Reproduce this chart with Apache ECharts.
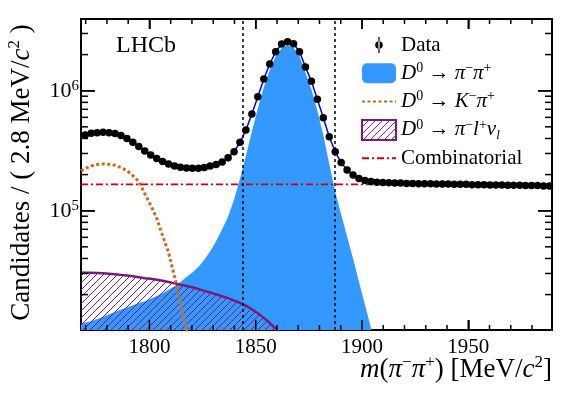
<!DOCTYPE html>
<html>
<head>
<meta charset="utf-8">
<script src="https://cdn.jsdelivr.net/npm/echarts@6/dist/echarts.min.js"></script>
<style>
  html, body { margin: 0; padding: 0; background: #fff; }
  #chart { width: 581px; height: 394px; }
</style>
</head>
<body>
<div id="chart"></div>
<script>
// axis range and binning, MeV/c^2
const massMin = 1767.8;
const massMax = 1989.4;
const binStart = 1769.8;
const binWidth = 2.8;

// candidates per bin
const dataCounts = [
  4.27e5, 4.42e5, 4.47e5, 4.50e5, 4.47e5, 4.40e5, 4.24e5, 4.00e5, 3.72e5, 3.43e5,
  3.15e5, 2.91e5, 2.72e5, 2.57e5, 2.45e5, 2.36e5, 2.30e5, 2.27e5, 2.26e5, 2.26e5,
  2.29e5, 2.36e5, 2.43e5, 2.55e5, 2.77e5, 3.10e5, 3.72e5, 4.70e5, 6.39e5, 8.90e5,
  1.25e6, 1.67e6, 2.11e6, 2.45e6, 2.56e6, 2.46e6, 2.11e6, 1.58e6, 1.20e6, 8.50e5,
  5.96e5, 4.14e5, 3.10e5, 2.52e5, 2.18e5, 1.98e5, 1.86e5, 1.79e5, 1.75e5, 1.73e5,
  1.72e5, 1.71e5, 1.70e5, 1.70e5, 1.69e5, 1.69e5, 1.68e5, 1.68e5, 1.68e5, 1.67e5,
  1.67e5, 1.67e5, 1.66e5, 1.66e5, 1.66e5, 1.65e5, 1.65e5, 1.65e5, 1.64e5, 1.64e5,
  1.64e5, 1.63e5, 1.63e5, 1.63e5, 1.62e5, 1.62e5, 1.62e5, 1.61e5, 1.61e5
];

// model curves: first value sits on the left frame, the rest on the bin centres
const fitTotal = [
  4.14e5,
  4.27e5, 4.42e5, 4.47e5, 4.50e5, 4.47e5, 4.40e5, 4.24e5, 4.00e5, 3.72e5, 3.43e5,
  3.15e5, 2.91e5, 2.72e5, 2.57e5, 2.45e5, 2.36e5, 2.30e5, 2.27e5, 2.26e5, 2.26e5,
  2.29e5, 2.36e5, 2.43e5, 2.55e5, 2.77e5, 3.10e5, 3.72e5, 4.70e5, 6.39e5, 8.90e5,
  1.25e6, 1.67e6, 2.11e6, 2.45e6, 2.56e6, 2.46e6, 2.11e6, 1.58e6, 1.20e6, 8.50e5,
  5.96e5, 4.14e5, 3.10e5, 2.52e5, 2.18e5, 1.98e5, 1.86e5, 1.79e5, 1.75e5, 1.73e5,
  1.72e5, 1.71e5, 1.70e5, 1.70e5, 1.69e5, 1.69e5, 1.68e5, 1.68e5, 1.68e5, 1.67e5,
  1.67e5, 1.67e5, 1.66e5, 1.66e5, 1.66e5, 1.65e5, 1.65e5, 1.65e5, 1.64e5, 1.64e5,
  1.64e5, 1.63e5, 1.63e5, 1.63e5, 1.62e5, 1.62e5, 1.62e5, 1.61e5, 1.61e5
];
const signalPiPi = [
  1.15e4,
  1.17e4, 1.20e4, 1.25e4, 1.30e4, 1.37e4, 1.43e4, 1.50e4, 1.56e4, 1.63e4, 1.70e4,
  1.76e4, 1.85e4, 1.95e4, 2.05e4, 2.20e4, 2.35e4, 2.55e4, 2.80e4, 3.05e4, 3.40e4,
  3.90e4, 4.60e4, 5.60e4, 7.00e4, 8.90e4, 1.24e5, 1.85e5, 2.87e5, 4.58e5, 7.10e5,
  1.07e6, 1.49e6, 1.93e6, 2.27e6, 2.39e6, 2.29e6, 1.94e6, 1.41e6, 1.03e6, 6.80e5,
  4.27e5, 2.46e5, 1.44e5, 9.30e4, 6.10e4, 4.00e4, 2.55e4, 1.65e4, 1.06e4, 6.80e3,
  4.40e3
];
const misIdKPi = [
  2.15e5,
  2.25e5, 2.36e5, 2.43e5, 2.45e5, 2.44e5, 2.39e5, 2.29e5, 2.16e5, 1.96e5, 1.75e5,
  1.39e5, 1.11e5, 8.70e4, 6.20e4, 4.47e4, 2.83e4, 1.69e4, 1.03e4, 6.00e3
];
const semiLeptonic = [
  3.05e4,
  3.04e4, 3.04e4, 3.03e4, 3.01e4, 2.99e4, 2.96e4, 2.92e4, 2.88e4, 2.84e4, 2.79e4,
  2.74e4, 2.71e4, 2.66e4, 2.61e4, 2.55e4, 2.48e4, 2.42e4, 2.36e4, 2.30e4, 2.23e4,
  2.15e4, 2.08e4, 2.01e4, 1.94e4, 1.87e4, 1.78e4, 1.71e4, 1.62e4, 1.51e4, 1.40e4,
  1.28e4, 1.16e4, 1.04e4, 9.00e3
];
const combinatorial = [1.66e5, 1.66e5];   // flat, at massMin and massMax
const signalWindow = [1844, 1887];

const xMajorTicks = [1800, 1850, 1900, 1950];
const xMinorTicks = [1770, 1780, 1790, 1810, 1820, 1830, 1840, 1860, 1870, 1880,
                     1890, 1910, 1920, 1930, 1940, 1960, 1970, 1980];
const yMajorTicks = [1e5, 1e6];
const yMinorTicks = [2e4, 3e4, 4e4, 5e4, 6e4, 7e4, 8e4, 9e4,
                     2e5, 3e5, 4e5, 5e5, 6e5, 7e5, 8e5, 9e5, 2e6, 3e6];
const yMin = 1.014e4, yMax = 3.96e6;

const serif = "'Liberation Serif', 'DejaVu Serif', serif";
const purple = '#7a1a78';
const blueFill = '#3399ff';
const orange = '#cc6a1c';
const red = '#d40000';

const lg = v => Math.log10(v);
const binCentres = dataCounts.map((_, i) => +(binStart + i * binWidth).toFixed(2));
const curveMass = [massMin].concat(binCentres);
const curve = arr => arr.map((v, i) => [curveMass[i], lg(v)]);

function hatch(color) {
  const s = 7;
  const c = document.createElement('canvas');
  c.width = s; c.height = s;
  const g = c.getContext('2d');
  g.strokeStyle = color;
  g.lineWidth = 1;
  g.beginPath();
  g.moveTo(-1, s + 1); g.lineTo(s + 1, -1);
  g.moveTo(-1, 1); g.lineTo(1, -1);
  g.moveTo(s - 1, s + 1); g.lineTo(s + 1, s - 1);
  g.stroke();
  return { image: c, repeat: 'repeat' };
}
const hatchFill = hatch(purple);

const rich = {
  r: { fontFamily: serif, fontSize: 21, lineHeight: 24, color: '#000' },
  i: { fontFamily: serif, fontStyle: 'italic', fontSize: 21, lineHeight: 24, color: '#000' },
  sup: { fontFamily: serif, fontSize: 14, verticalAlign: 'top', lineHeight: 14, color: '#000' },
  sub: { fontFamily: serif, fontStyle: 'italic', fontSize: 13, verticalAlign: 'bottom', lineHeight: 13, color: '#000' }
};
const titleRich = {
  r: { fontFamily: serif, fontSize: 27, lineHeight: 32, color: '#000' },
  i: { fontFamily: serif, fontStyle: 'italic', fontSize: 27, lineHeight: 32, color: '#000' },
  sup: { fontFamily: serif, fontSize: 17, verticalAlign: 'top', lineHeight: 17, color: '#000' }
};

const sigName = 'D0 → π−π+';
const kpiName = 'D0 → K−π+';
const slName = 'D0 → π−l+νl';
const legendText = {
  'Data': '{r|Data}',
  [sigName]: '{i|D}{sup|0}{r| → }{i|π}{sup|−}{i|π}{sup|+}',
  [kpiName]: '{i|D}{sup|0}{r| → }{i|K}{sup|−}{i|π}{sup|+}',
  [slName]: '{i|D}{sup|0}{r| → }{i|π}{sup|−}{i|l}{sup|+}{i|ν}{sub|l}',
  'Combinatorial': '{r|Combinatorial}'
};
const noMarker = { color: 'rgba(0,0,0,0)', borderColor: 'rgba(0,0,0,0)', borderWidth: 0 };
const dataIcon = 'path://M0 0M34 20M16.4 2h1.2v16h-1.2zM13.2 10a3.8 3.8 0 1 0 7.6 0a3.8 3.8 0 1 0 -7.6 0z';

const tickLine = { color: '#000', width: 1.5 };
function xAxisDef(pos, withLabel) {
  return {
    type: 'value', position: pos, min: massMin, max: massMax,
    splitLine: { show: false },
    axisLine: { show: true, onZero: false, lineStyle: { color: '#000', width: 2 } },
    axisTick: { show: true, inside: true, length: 10, customValues: xMajorTicks, lineStyle: tickLine },
    axisLabel: withLabel
      ? { show: true, customValues: xMajorTicks, margin: 7, color: '#000', fontFamily: serif, fontSize: 21, formatter: v => String(v) }
      : { show: false }
  };
}
function yAxisDef(pos, withLabel) {
  return {
    type: 'value', position: pos, min: lg(yMin), max: lg(yMax),
    splitLine: { show: false },
    axisLine: { show: true, onZero: false, lineStyle: { color: '#000', width: 2 } },
    axisTick: { show: true, inside: true, length: 14, customValues: yMajorTicks.map(lg), lineStyle: tickLine },
    axisLabel: withLabel
      ? {
          show: true, customValues: yMajorTicks.map(lg), margin: 2, color: '#000',
          formatter: v => '{b|10}{e|' + Math.round(v) + '}',
          rich: {
            b: { fontFamily: serif, fontSize: 22, lineHeight: 24, color: '#000' },
            e: { fontFamily: serif, fontSize: 15, lineHeight: 15, verticalAlign: 'top', color: '#000' }
          }
        }
      : { show: false }
  };
}
const xBottom = xAxisDef('bottom', true);
const yLeft = yAxisDef('left', true);
yLeft.name = '{r|Candidates / ( 2.8 MeV/}{i|c}{sup|2}{r| )}';
yLeft.nameLocation = 'middle';
yLeft.nameGap = 43;
yLeft.nameTextStyle = { fontFamily: serif, fontSize: 27, color: '#000', padding: [0, 0, 0, 4], rich: titleRich };

// inside ticks on all four sides, drawn by custom series through the axes' scales
const tickSeries = (items, horizontal, len) => ({
  type: 'custom', silent: true, z: 10, clip: false, animation: false,
  data: items,
  renderItem: (params, api) => {
    const cs = params.coordSys;
    const p = api.coord([api.value(0), api.value(1)]);
    const st = { stroke: '#000', lineWidth: 1.5 };
    if (horizontal) {
      const yb = cs.y + cs.height, yt = cs.y;
      return { type: 'group', children: [
        { type: 'line', shape: { x1: p[0], y1: yb, x2: p[0], y2: yb - len }, style: st },
        { type: 'line', shape: { x1: p[0], y1: yt, x2: p[0], y2: yt + len }, style: st }
      ] };
    }
    const xl = cs.x, xr = cs.x + cs.width;
    return { type: 'group', children: [
      { type: 'line', shape: { x1: xl, y1: p[1], x2: xl + len, y2: p[1] }, style: st },
      { type: 'line', shape: { x1: xr, y1: p[1], x2: xr - len, y2: p[1] }, style: st }
    ] };
  }
});

const option = {
  animation: false,
  backgroundColor: '#fff',
  grid: {
    left: 81, right: 29, top: 19, bottom: 64, containLabel: false, outerBoundsMode: 'none',
    show: true, borderColor: '#000', borderWidth: 2, backgroundColor: 'rgba(0,0,0,0)'
  },
  title: [
    {
      text: 'LHCb', left: 116, top: 34, padding: 0,
      textStyle: { fontFamily: serif, fontSize: 24, fontWeight: 'normal', color: '#000' }
    },
    {
      text: '{i|m}{r|(}{i|π}{sup|−}{i|π}{sup|+}{r|) [MeV/}{i|c}{sup|2}{r|]}',
      right: 29, top: 354, padding: 0,
      textStyle: { fontFamily: serif, fontSize: 27, fontWeight: 'normal', color: '#000', rich: titleRich }
    }
  ],
  legend: {
    orient: 'vertical', left: 361, top: 33, padding: 0,
    itemWidth: 34, itemHeight: 20, itemGap: 4.3,
    selectedMode: false,
    textStyle: { fontFamily: serif, fontSize: 21, color: '#000', lineHeight: 24, rich: rich },
    formatter: name => legendText[name],
    data: [
      { name: 'Data', icon: dataIcon, itemStyle: { color: '#000', opacity: 1 } },
      { name: sigName, icon: 'roundRect', itemStyle: { color: blueFill, borderWidth: 0 } },
      { name: kpiName, itemStyle: noMarker },
      { name: slName, icon: 'rect', itemStyle: { color: hatchFill, borderColor: purple, borderWidth: 2 } },
      { name: 'Combinatorial', itemStyle: noMarker }
    ]
  },
  xAxis: [xBottom, xAxisDef('top', false)],
  yAxis: [yLeft, yAxisDef('right', false)],
  series: [
    {
      name: sigName, type: 'line', data: curve(signalPiPi), symbol: 'none', z: 1,
      lineStyle: { width: 0 }, itemStyle: { color: blueFill },
      areaStyle: { color: blueFill, opacity: 1, origin: 'start' }
    },
    {
      name: slName, type: 'line', data: curve(semiLeptonic), symbol: 'none', z: 2,
      lineStyle: { color: purple, width: 2.5 }, itemStyle: { color: purple },
      areaStyle: { color: hatchFill, opacity: 1, origin: 'start' }
    },
    {
      name: kpiName, type: 'line', data: curve(misIdKPi), symbol: 'none', z: 3,
      lineStyle: { color: orange, width: 3, type: [3, 2.5] }, itemStyle: { color: orange }
    },
    {
      name: 'Combinatorial', type: 'line', symbol: 'none', z: 4,
      data: [[massMin, lg(combinatorial[0])], [massMax, lg(combinatorial[1])]],
      lineStyle: { color: red, width: 1.8, type: [7, 3, 2, 3] }, itemStyle: { color: red }
    },
    {
      name: 'Total fit', type: 'line', data: curve(fitTotal), symbol: 'none', z: 5,
      lineStyle: { color: '#0000ff', width: 1.5 }, itemStyle: { color: '#0000ff' }
    },
    {
      name: 'Data', type: 'scatter', z: 6, symbol: 'circle', symbolSize: 7.5,
      data: dataCounts.map((v, i) => [binCentres[i], lg(v)]),
      itemStyle: { color: '#000', opacity: 1 },
      markLine: {
        silent: true, symbol: ['none', 'none'], label: { show: false },
        lineStyle: { color: '#000', width: 1.5, type: [3, 3] },
        data: signalWindow.map(x => ({ xAxis: x }))
      }
    },
    tickSeries(xMajorTicks.map(v => [v, lg(yMin)]), true, 10),
    tickSeries(xMinorTicks.map(v => [v, lg(yMin)]), true, 5),
    tickSeries(yMajorTicks.map(v => [massMin, lg(v)]), false, 14),
    tickSeries(yMinorTicks.map(v => [massMin, lg(v)]), false, 7)
  ]
};

const chart = echarts.init(document.getElementById('chart'), null, { renderer: 'canvas' });
chart.setOption(option);
</script>
</body>
</html>
